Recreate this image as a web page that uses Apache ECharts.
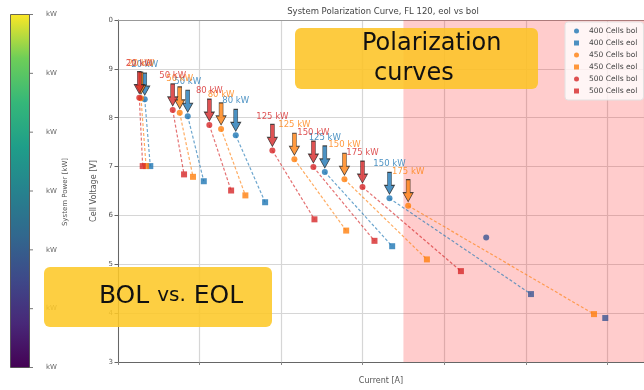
<!DOCTYPE html>
<html>
<head>
<meta charset="utf-8">
<script src="https://cdn.jsdelivr.net/npm/echarts@6/dist/echarts.min.js"></script>
<style>html,body{margin:0;padding:0;background:#fff;}#c{width:644px;height:390px;}</style>
</head>
<body>
<div id="c"></div>
<script>
// ---- data ----
const yTicks = [0.3, 0.4, 0.5, 0.6, 0.7, 0.8, 0.9, 1.0];
const colorbarTicks = ['kW', 'kW', 'kW', 'kW', 'kW', 'kW', 'kW'];

const power400 = ['20 kW', '50 kW', '80 kW', '125 kW', '150 kW'];
const bolI400 = [32.8, 85.5, 144.4, 253.6, 332.9];
const bolV400 = [0.838, 0.803, 0.764, 0.689, 0.635];
const eolI400 = [39.6, 105.2, 180.4, 336.2, 506.4];
const eolV400 = [0.701, 0.670, 0.627, 0.537, 0.439];

const power450 = ['20 kW', '50 kW', '80 kW', '125 kW', '150 kW', '175 kW'];
const bolI450 = [28.2, 75.7, 126.4, 216.3, 277.7, 355.8];
const bolV450 = [0.840, 0.810, 0.777, 0.715, 0.674, 0.620];
const eolI450 = [34.4, 92.0, 156.2, 279.8, 378.8, 583.7];
const eolV450 = [0.701, 0.679, 0.641, 0.569, 0.510, 0.398];

const power500 = ['20 kW', '50 kW', '80 kW', '125 kW', '150 kW', '175 kW'];
const bolI500 = [26.1, 67.1, 112.0, 189.3, 239.6, 299.8];
const bolV500 = [0.841, 0.816, 0.785, 0.733, 0.699, 0.658];
const eolI500 = [30.3, 81.0, 138.7, 240.9, 314.5, 420.5];
const eolV500 = [0.701, 0.684, 0.651, 0.592, 0.548, 0.486];

const extraBolI = [451.5];
const extraBolV = [0.555];
const extraEolI = [597.5];
const extraEolV = [0.390];

const C400 = '#1f77b4', C450 = '#ff7f0e', C500 = '#d62728', NAVY = '#3b5592';
const FONT = 'DejaVu Sans';

const series = [];
function addGroup(label, color, power, bI, bV, eI, eV, navyEol) {
  // dashed connectors
  for (let i = 0; i < bI.length; i++) {
    series.push({
      type: 'line', silent: true, symbol: 'none', z: 2,
      data: [[bI[i], bV[i]], [eI[i], eV[i]]],
      lineStyle: { color: color, width: 1.2, type: [3, 2], opacity: 0.65 }
    });
  }
  series.push({
    name: label + ' bol', type: 'scatter', symbol: 'circle', symbolSize: 6, z: 4,
    itemStyle: { color: color },
    data: bI.map((x, i) => [x, bV[i]])
  });
  series.push({
    name: label + ' eol', type: 'scatter', symbol: 'rect', symbolSize: 6, z: 4,
    itemStyle: { color: color },
    data: eI.map((x, i) => (navyEol && i === eI.length - 1)
      ? { value: [x, eV[i]], itemStyle: { color: NAVY } } : [x, eV[i]])
  });
  series.push({
    name: label + ' arrows', type: 'scatter', z: 5,
    symbol: 'path://M3,0L7,0L7,13L10,13L5,22L0,13L3,13Z',
    symbolSize: [10, 22], symbolOffset: [0, -15], symbolKeepAspect: false,
    itemStyle: { color: color, borderColor: '#222', borderWidth: 0.8 },
    label: { show: true, position: 'top', distance: 3, formatter: '{b}',
      color: color, fontSize: 8.5, fontFamily: FONT },
    data: bI.map((x, i) => ({ name: power[i], value: [x, bV[i]] }))
  });
}
addGroup('400 Cells', C400, power400, bolI400, bolV400, eolI400, eolV400, true);
addGroup('450 Cells', C450, power450, bolI450, bolV450, eolI450, eolV450, false);
addGroup('500 Cells', C500, power500, bolI500, bolV500, eolI500, eolV500, false);

series.push({
  name: 'extra bol', type: 'scatter', symbol: 'circle', symbolSize: 6, z: 4,
  itemStyle: { color: NAVY }, data: extraBolI.map((x, i) => [x, extraBolV[i]])
});
series.push({
  name: 'extra eol', type: 'scatter', symbol: 'rect', symbolSize: 6, z: 4,
  itemStyle: { color: NAVY }, data: extraEolI.map((x, i) => [x, extraEolV[i]])
});
// shaded region
series.unshift({
  type: 'line', silent: true, symbol: 'none', data: [], z: 1,
  markArea: { silent: true, itemStyle: { color: 'rgba(255,0,0,0.2)' },
    data: [[{ xAxis: 350 }, { xAxis: 645 }]] }
});

const viridis = ['#440154', '#482878', '#3e4989', '#31688e', '#26828e', '#1f9e89', '#35b779', '#6ece58', '#fde725'];
const graphics = [];
graphics.push({
  type: 'rect', shape: { x: 10.5, y: 14.5, width: 19, height: 353 }, z: 10,
  style: { fill: new echarts.graphic.LinearGradient(0, 1, 0, 0,
      viridis.map((c, i) => ({ offset: i / (viridis.length - 1), color: c }))),
    stroke: '#444', lineWidth: 0.8 }
});
colorbarTicks.forEach((t, i) => {
  const y = 14.5 + i * (353 / (colorbarTicks.length - 1));
  graphics.push({ type: 'line', z: 10, shape: { x1: 29.5, y1: y, x2: 33, y2: y }, style: { stroke: '#555', lineWidth: 0.8 } });
  graphics.push({ type: 'text', z: 10, x: 46, y: y, style: { text: t, fill: '#666', fontSize: 7, fontFamily: FONT, verticalAlign: 'middle' } });
});
graphics.push({ type: 'text', z: 10, x: 65, y: 192, rotation: Math.PI / 2,
  style: { text: 'System Power [kW]', fill: '#555', fontSize: 7, fontFamily: FONT, align: 'center', verticalAlign: 'middle' } });
graphics.push({ type: 'text', z: 10, x: 383, y: 12,
  style: { text: 'System Polarization Curve, FL 120, eol vs bol', fill: '#444', fontSize: 8.5, fontFamily: FONT, align: 'center', verticalAlign: 'middle' } });
// yellow annotation boxes
graphics.push({ type: 'rect', z: 100, shape: { x: 295, y: 28, width: 243, height: 61, r: 6 },
  style: { fill: 'rgba(253,196,38,0.88)' } });
graphics.push({ type: 'text', z: 101, x: 362, y: 44,
  style: { text: 'Polarization', fill: '#111', fontSize: 24, fontFamily: FONT, verticalAlign: 'middle' } });
graphics.push({ type: 'text', z: 101, x: 374, y: 74,
  style: { text: 'curves', fill: '#111', fontSize: 24, fontFamily: FONT, verticalAlign: 'middle' } });
graphics.push({ type: 'rect', z: 100, shape: { x: 44, y: 267, width: 228, height: 60, r: 6 },
  style: { fill: 'rgba(253,200,40,0.88)' } });
graphics.push({ type: 'text', z: 101, x: 171, y: 296,
  style: { text: '{a|BOL} {b|vs.} {a|EOL}', align: 'center', verticalAlign: 'middle',
    fontFamily: FONT, fill: '#111', fontSize: 25,
    rich: { a: { fontSize: 25, fontFamily: FONT, fill: '#111' }, b: { fontSize: 20, fontFamily: FONT, fill: '#111' } } } });

const chart = echarts.init(document.getElementById('c'), null, { renderer: 'canvas' });
chart.setOption({
  animation: false,
  grid: { left: 118, top: 20, right: 0, bottom: 27 },
  xAxis: [{
    type: 'value', min: 0, max: 645, interval: 100,
    axisLine: { show: true, onZero: false, lineStyle: { color: '#666', width: 1 } },
    axisTick: { show: true, length: 3, lineStyle: { color: '#888' } },
    axisLabel: { show: false },
    splitLine: { show: true, lineStyle: { color: '#d6d6d6', width: 1.2 } },
    name: 'Current [A]', nameLocation: 'middle', nameGap: 15,
    nameTextStyle: { color: '#555', fontSize: 8, fontFamily: FONT }
  }, {
    type: 'value', position: 'top', min: 0, max: 645,
    axisLine: { show: true, lineStyle: { color: '#999', width: 1 } },
    axisTick: { show: false }, axisLabel: { show: false }, splitLine: { show: false }
  }],
  yAxis: {
    type: 'value', min: yTicks[0], max: yTicks[yTicks.length - 1], interval: 0.1,
    axisLine: { show: true, lineStyle: { color: '#666', width: 1 } },
    axisTick: { show: true, length: 3.5, lineStyle: { color: '#666' } },
    axisLabel: { color: '#555', fontSize: 7, fontFamily: FONT, margin: 5,
      formatter: v => String(Math.round(v * 10) % 10) },
    splitLine: { show: true, lineStyle: { color: '#d6d6d6', width: 1.2 } },
    name: 'Cell Voltage [V]', nameLocation: 'middle', nameGap: 19, nameRotate: 90,
    nameTextStyle: { color: '#555', fontSize: 8, fontFamily: FONT }
  },
  legend: {
    orient: 'vertical', left: 565, top: 22, padding: [4, 6, 4, 9],
    itemWidth: 5, itemHeight: 5, itemGap: 2,
    backgroundColor: 'rgba(255,255,255,0.8)', borderColor: '#e2e2e2', borderWidth: 1, borderRadius: 3,
    textStyle: { color: '#444', fontSize: 7.5, fontFamily: FONT, lineHeight: 10, padding: [0, 0, 0, 5] },
    data: [
      { name: '400 Cells bol', icon: 'circle' }, { name: '400 Cells eol', icon: 'rect' },
      { name: '450 Cells bol', icon: 'circle' }, { name: '450 Cells eol', icon: 'rect' },
      { name: '500 Cells bol', icon: 'circle' }, { name: '500 Cells eol', icon: 'rect' }
    ]
  },
  series: series,
  graphic: graphics
});
</script>
</body>
</html>
